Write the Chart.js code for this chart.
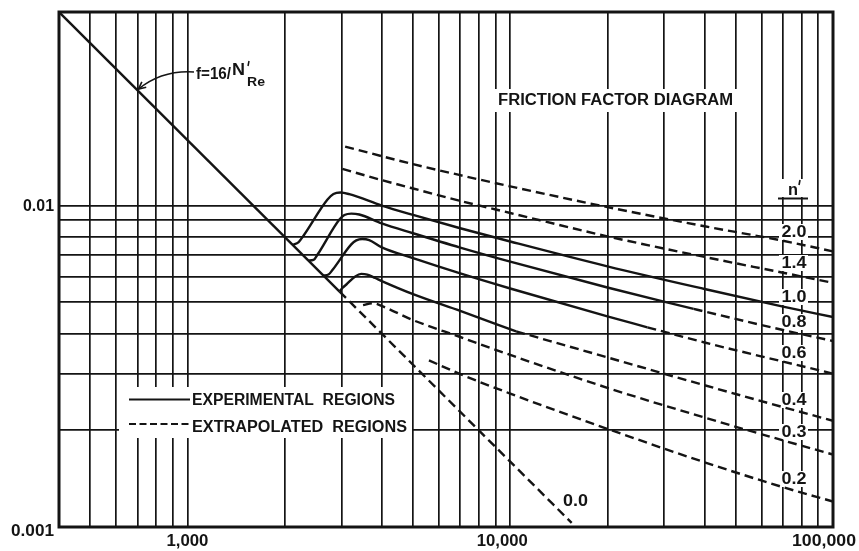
<!DOCTYPE html>
<html>
<head>
<meta charset="utf-8">
<script src="https://cdn.jsdelivr.net/npm/chart.js@4.4.1/dist/chart.umd.min.js"></script>
<style>
html,body{margin:0;padding:0;background:#fff;}
canvas{display:block;}
</style>
</head>
<body>
<canvas id="c" width="859" height="551"></canvas>
<script>
// ---------- axis / tick data ----------
const xGridValues = [500,600,700,800,900,1000,2000,3000,4000,5000,6000,7000,8000,9000,10000,20000,30000,40000,50000,60000,70000,80000,90000];
const yGridValues = [0.002,0.003,0.004,0.005,0.006,0.007,0.008,0.009,0.01];
const xTickValues = [1000, 10000, 100000];
const xTickLabels = ['1,000', '10,000', '100,000'];
const yTickValues = [0.01, 0.001];
const yTickLabels = ['0.01', '0.001'];

// ---------- series (Reynolds number N'Re, friction factor f) ----------
// laminar f = 16/N'Re (solid part, then dashed "0.0" continuation)
const lamRe = [400, 2960];
const lamF  = [0.04, 0.0054];
const zeroRe = [2960, 15500];
const zeroF  = [0.0054, 0.00103];

// n' = 1.0 (experimental, solid to the edge)
const n10Re = [2120, 2211, 2291, 2716, 2834, 2977, 3172, 4000, 5000, 7000, 10000, 20000, 40000, 70000, 100000];
const n10F  = [0.00755, 0.0077, 0.00807, 0.01044, 0.01086, 0.01098, 0.01085, 0.0100, 0.00935, 0.0085, 0.00773, 0.00647, 0.0055, 0.00485, 0.0045];

// n' = 0.8
const n08ReSolid = [2373, 2459, 2530, 2957, 3064, 3218, 3406, 4000, 5000, 7000, 10000, 20000, 37000];
const n08FSolid  = [0.00674, 0.00677, 0.00704, 0.00905, 0.00934, 0.00944, 0.00938, 0.0088, 0.0082, 0.0074, 0.00669, 0.00556, 0.00477];
const n08ReDash = [37000, 40000, 70000, 100000];
const n08FDash  = [0.00477, 0.00468, 0.0041, 0.00379];

// n' = 0.6
const n06ReSolid = [2640, 2735, 2813, 3218, 3335, 3479, 3657, 4000, 5000, 7000, 10000, 20000, 26600];
const n06FSolid  = [0.00606, 0.0061, 0.0063, 0.00757, 0.00779, 0.00787, 0.00781, 0.00741, 0.00686, 0.00615, 0.00552, 0.00452, 0.00418];
const n06ReDash = [26600, 40000, 70000, 100000];
const n06FDash  = [0.00418, 0.00375, 0.00327, 0.0030];

// n' = 0.4
const n04ReSolid = [2960, 3020, 3107, 3311, 3454, 3606, 3815, 4000, 5000, 7000, 10430];
const n04FSolid  = [0.0054, 0.00554, 0.00568, 0.00602, 0.00613, 0.0061, 0.00595, 0.00582, 0.0053, 0.0047, 0.00406];
const n04ReDash = [10430, 20000, 40000, 70000, 100000];
const n04FDash  = [0.00406, 0.00337, 0.00276, 0.00236, 0.00214];

// n' = 0.3 (extrapolated)
const n03Re = [3500, 3750, 4000, 5000, 7000, 10000, 20000, 40000, 70000, 100000];
const n03F  = [0.0049, 0.00497, 0.00487, 0.0044, 0.0039, 0.00343, 0.00271, 0.00219, 0.00186, 0.00168];

// n' = 0.2 (extrapolated)
const n02Re = [5600, 7000, 10000, 20000, 40000, 70000, 100000];
const n02F  = [0.0033, 0.00299, 0.0026, 0.00202, 0.00159, 0.00133, 0.0012];

// n' = 1.4 (extrapolated)
const n14Re = [3020, 4000, 5000, 7000, 10000, 20000, 40000, 70000, 100000];
const n14F  = [0.0130, 0.0120, 0.0113, 0.01034, 0.00948, 0.00802, 0.00692, 0.00618, 0.00575];

// n' = 2.0 (extrapolated)
const n20Re = [3080, 5000, 7000, 10000, 20000, 40000, 70000, 100000];
const n20F  = [0.01525, 0.01345, 0.01243, 0.01147, 0.00989, 0.00862, 0.00777, 0.0072];

// curve labels
const curveLabels = ['2.0','1.4','1.0','0.8','0.6','0.4','0.3','0.2'];

// ---------- helpers ----------
const pts = (xs, ys) => xs.map((x, i) => ({x: x, y: ys[i]}));
const INK = '#141414';
const FONT = "'Liberation Sans', Arial, sans-serif";
const DASH = [9, 5];

function ds(xs, ys, dashed) {
  return {
    data: pts(xs, ys),
    borderColor: INK,
    borderWidth: 2.4,
    borderDash: dashed ? DASH : [],
    pointRadius: 0,
    fill: false,
    cubicInterpolationMode: 'monotone',
    borderCapStyle: 'butt',
    borderJoinStyle: 'round'
  };
}

function measure(ctx, s, size, bold) {
  ctx.save();
  ctx.font = (bold ? 'bold ' : '') + size + 'px ' + FONT;
  const w = ctx.measureText(s).width;
  ctx.restore();
  return w;
}
// draw text; if targetW given, horizontally scale to that width
function txt(ctx, s, x, y, size, align, targetW, bold) {
  if (bold === undefined) bold = true;
  ctx.save();
  ctx.font = (bold ? 'bold ' : '') + size + 'px ' + FONT;
  ctx.fillStyle = INK;
  ctx.textBaseline = 'middle';
  const w = ctx.measureText(s).width;
  const sx = targetW ? targetW / w : 1;
  const realW = w * sx;
  let left = x;
  if (align === 'center') left = x - realW / 2;
  else if (align === 'right') left = x - realW;
  ctx.translate(left, y);
  ctx.scale(sx, 1);
  ctx.textAlign = 'left';
  ctx.fillText(s, 0, 0);
  ctx.restore();
}
function white(ctx, x0, y0, x1, y1) {
  ctx.save();
  ctx.fillStyle = '#fff';
  ctx.fillRect(x0, y0, x1 - x0, y1 - y0);
  ctx.restore();
}

// label placement (pixel offsets from right edge / scale)
const labelY = [232, 263, 297, 322, 353, 400, 432, 479];

const decor = {
  id: 'decor',
  beforeDatasetsDraw(chart) {
    const ctx = chart.ctx;
    const a = chart.chartArea;
    // white patches under texts so grid lines break there
    white(ctx, 492, 89, 739, 112);             // title
    white(ctx, 119, 387, 412, 438);            // legend box
    white(ctx, 190, 61, 268, 90);              // f = 16/N'Re
    white(ctx, 778, 179, 809, 197);            // n'
    curveLabels.forEach((s, i) => {
      white(ctx, 779, labelY[i] - 8, 808, labelY[i] + 8);
    });
    white(ctx, 561, 493, 590, 510);            // 0.0
  },
  afterDatasetsDraw(chart) {
    const ctx = chart.ctx;
    const a = chart.chartArea;
    const xs = chart.scales.x, ys = chart.scales.y;

    // frame
    ctx.save();
    ctx.strokeStyle = INK;
    ctx.lineWidth = 3;
    ctx.strokeRect(a.left, a.top, a.right - a.left, a.bottom - a.top);
    ctx.restore();

    // tick labels
    const xOff = [0, -8, -9];
    xTickValues.forEach((v, i) => {
      txt(ctx, xTickLabels[i], xs.getPixelForValue(v) + xOff[i], 542, 16, 'center', [42, 51, 64][i]);
    });
    const yOff = [1, 5];
    yTickValues.forEach((v, i) => {
      txt(ctx, yTickLabels[i], 54, ys.getPixelForValue(v) + yOff[i], 16, 'right', [31, 43][i]);
    });

    // title
    txt(ctx, 'FRICTION FACTOR DIAGRAM', 498, 100.5, 16, 'left', 235);

    // legend
    ctx.save();
    ctx.strokeStyle = INK;
    ctx.lineWidth = 2.2;
    ctx.beginPath(); ctx.moveTo(129, 399.5); ctx.lineTo(190, 399.5); ctx.stroke();
    ctx.setLineDash([7, 3.5]);
    ctx.beginPath(); ctx.moveTo(129, 424); ctx.lineTo(191, 424); ctx.stroke();
    ctx.restore();
    txt(ctx, 'EXPERIMENTAL  REGIONS', 192, 401, 16, 'left', 203);
    txt(ctx, 'EXTRAPOLATED  REGIONS', 192, 427.5, 16, 'left', 215);

    // curve labels
    curveLabels.forEach((s, i) => {
      txt(ctx, s, 794, labelY[i], 17, 'center', 25);
    });
    txt(ctx, '0.0', 575.5, 501, 17, 'center', 25);

    // n' header
    txt(ctx, 'n', 793, 190, 17, 'center', 10);
    ctx.save();
    ctx.strokeStyle = INK;
    ctx.lineWidth = 1.6;
    ctx.beginPath(); ctx.moveTo(800, 180); ctx.lineTo(799, 185); ctx.stroke();
    ctx.lineWidth = 2;
    ctx.beginPath(); ctx.moveTo(778, 198.5); ctx.lineTo(808, 198.5); ctx.stroke();
    ctx.restore();

    // f = 16/N'Re annotation
    txt(ctx, 'f=16/', 196, 75, 16, 'left', 35);
    txt(ctx, 'N', 232, 71, 16, 'left', 13);
    ctx.save();
    ctx.strokeStyle = INK;
    ctx.lineWidth = 1.5;
    ctx.beginPath(); ctx.moveTo(249, 61); ctx.lineTo(248, 66); ctx.stroke();
    ctx.restore();
    txt(ctx, 'Re', 247, 82, 13, 'left', 18);

    // arrow to the laminar line
    const tipX = xs.getPixelForValue(700);
    const tipY = ys.getPixelForValue(16 / 700);
    ctx.save();
    ctx.strokeStyle = INK;
    ctx.lineWidth = 1.6;
    ctx.beginPath();
    ctx.moveTo(194, 72);
    ctx.quadraticCurveTo(162, 70, tipX + 1, tipY - 1);
    ctx.stroke();
    const ang = Math.atan2((tipY - 1) - 70, (tipX + 1) - 162);
    const L = 8;
    ctx.beginPath();
    ctx.moveTo(tipX + 1 - L * Math.cos(ang - 0.45), tipY - 1 - L * Math.sin(ang - 0.45));
    ctx.lineTo(tipX + 1, tipY - 1);
    ctx.lineTo(tipX + 1 - L * Math.cos(ang + 0.45), tipY - 1 - L * Math.sin(ang + 0.45));
    ctx.stroke();
    ctx.restore();
  }
};

const gridStyle = {
  color: INK,
  lineWidth: 1.7,
  drawTicks: false,
  drawOnChartArea: true
};

new Chart(document.getElementById('c').getContext('2d'), {
  type: 'line',
  data: {
    datasets: [
      ds(lamRe, lamF, false),
      ds(zeroRe, zeroF, true),
      ds(n10Re, n10F, false),
      ds(n08ReSolid, n08FSolid, false),
      ds(n08ReDash, n08FDash, true),
      ds(n06ReSolid, n06FSolid, false),
      ds(n06ReDash, n06FDash, true),
      ds(n04ReSolid, n04FSolid, false),
      ds(n04ReDash, n04FDash, true),
      ds(n03Re, n03F, true),
      ds(n02Re, n02F, true),
      ds(n14Re, n14F, true),
      ds(n20Re, n20F, true)
    ]
  },
  options: {
    responsive: false,
    animation: false,
    devicePixelRatio: 1,
    layout: { padding: { left: 59, right: 26, top: 12, bottom: 24 } },
    plugins: { legend: { display: false }, tooltip: { enabled: false } },
    scales: {
      x: {
        type: 'logarithmic',
        min: 400, max: 100000,
        grid: gridStyle,
        border: { display: false },
        ticks: { display: false },
        afterBuildTicks: (s) => { s.ticks = xGridValues.map(v => ({ value: v })); },
        afterFit: (s) => { s.height = 0; }
      },
      y: {
        type: 'logarithmic',
        min: 0.001, max: 0.04,
        grid: gridStyle,
        border: { display: false },
        ticks: { display: false },
        afterBuildTicks: (s) => { s.ticks = yGridValues.map(v => ({ value: v })); },
        afterFit: (s) => { s.width = 0; }
      }
    }
  },
  plugins: [decor]
});
</script>
</body>
</html>
